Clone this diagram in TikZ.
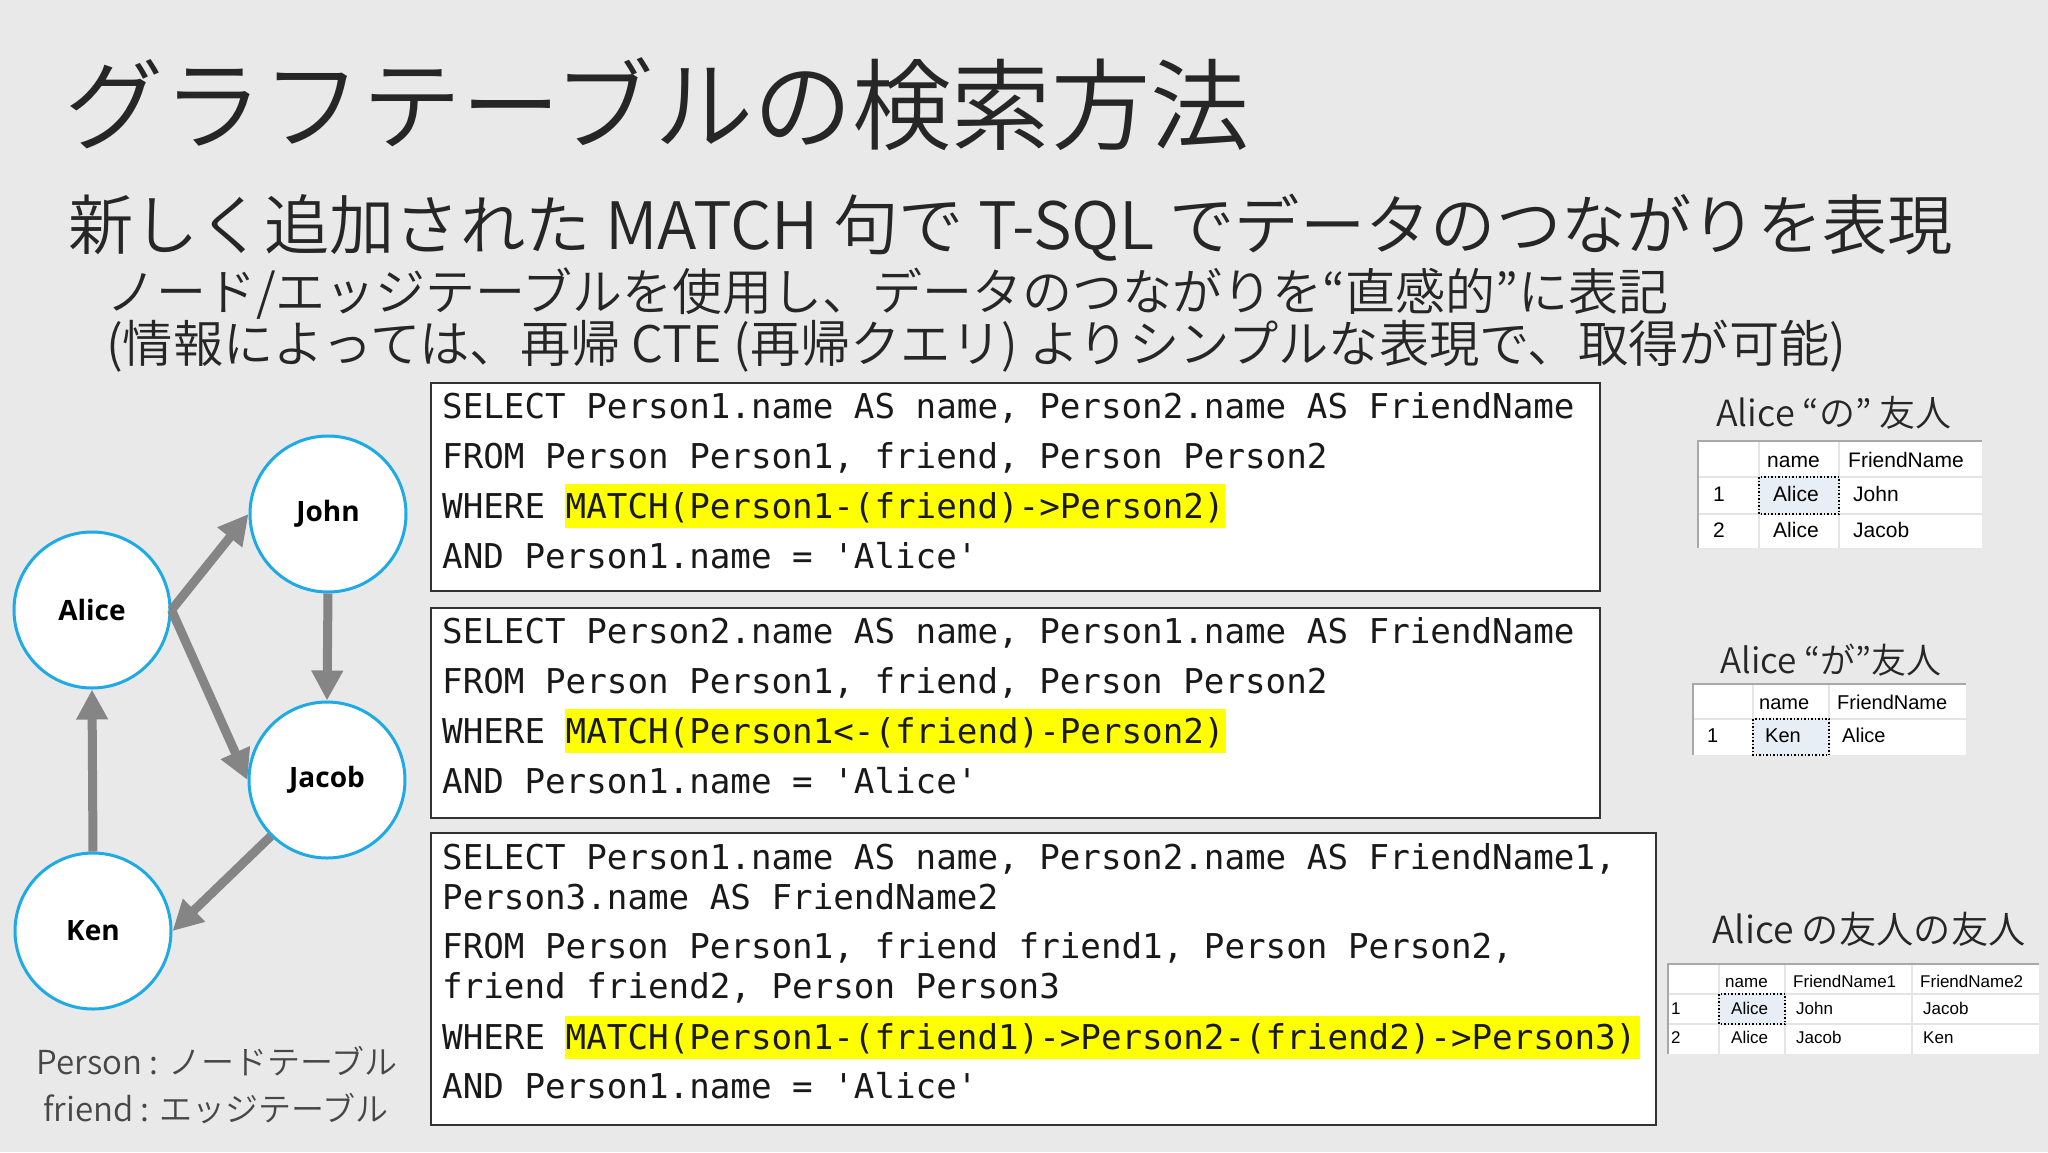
\documentclass[tikz,border=0pt]{standalone}
\usepackage{fontspec}
\setmainfont{Noto Sans CJK JP}
\newfontfamily\lightfont{Noto Sans CJK JP DemiLight}
\newfontfamily\codefont{DejaVu Sans Mono}[Ligatures=TeXOff]
\newfontfamily\labelfont{Open Sans}
\newfontfamily\tablefont{Liberation Sans}
\usetikzlibrary{arrows.meta}
\newcommand\myfs[1]{\fontsize{#1}{#1}\selectfont}
\definecolor{bgc}{RGB}{233,233,234}
\definecolor{txt}{RGB}{38,38,38}
\definecolor{cyanc}{RGB}{30,170,228}
\definecolor{arrowgray}{RGB}{133,133,133}
\definecolor{hl}{RGB}{255,255,0}
\definecolor{gridc}{RGB}{228,228,228}
\definecolor{tborder}{RGB}{168,168,168}
\definecolor{selc}{RGB}{232,238,246}
\tikzset{
  person/.style={circle, draw=cyanc, line width=3pt, fill=white, minimum size=156pt, inner sep=0pt, font=\labelfont\bfseries\myfs{28}, text=black},
  edge/.style={draw=arrowgray, line width=9pt, -{Triangle[length=30pt,width=30pt]}},
  codebox/.style={draw=black!80, line width=2pt, fill=white, anchor=north west, inner sep=0pt},
  code/.style={anchor=base west, inner sep=0pt, font=\codefont\myfs{34.2}, text=black!90},
  head/.style={anchor=west, inner sep=0pt, text=txt},
  ttl/.style={anchor=west, inner sep=0pt, text=txt, font=\lightfont\myfs{36}},
  tcell/.style={anchor=base west, inner sep=0pt, text=black, font=\tablefont\myfs{21}},
  tcells/.style={anchor=base west, inner sep=0pt, text=black, font=\tablefont\myfs{17}},
  grid/.style={draw=gridc, line width=1.5pt},
  tb/.style={draw=tborder, line width=2.5pt},
  sel/.style={draw=black, dotted, line width=1.5pt, fill=selc}
}
\begin{document}
\begin{tikzpicture}[x=1pt,y=-1pt]
\fill[bgc] (0,0) rectangle (2048,1152);
\useasboundingbox (0,0) rectangle (2048,1152);

% headings
\node[head, font=\lightfont\myfs{99.3}] (title) at (64,104) {グラフテーブルの検索方法};
\node[head, font=\lightfont\myfs{65.3}] (sub1) at (68,228) {新しく追加された MATCH 句で T-SQL でデータのつながりを表現};
\node[head, font=\lightfont\myfs{50}] (sub2) at (106,294) {ノード/エッジテーブルを使用し、データのつながりを“直感的”に表記};
\node[head, font=\lightfont\myfs{50.3}] (sub3) at (106,346) {(情報によっては、再帰 CTE (再帰クエリ) よりシンプルな表現で、取得が可能)};

% graph
\node[person] (alice) at (92,610) {Alice};
\node[person] (john) at (328,514) {John};
\node[person] (jacob) at (327,780) {Jacob};
\node[person] (ken) at (93,931) {Ken};
\draw[edge] (alice.east) -- (john.west);
\draw[edge] (alice.east) -- (jacob.west);
\draw[edge] (john.south) -- (jacob.north);
\draw[edge] (jacob.south west) -- (ken.east);
\draw[edge] (ken.north) -- (alice.south);

\node[font=\lightfont\myfs{33}, text=txt!85, inner sep=0pt] (leg1) at (217,1061) {Person : ノードテーブル};
\node[font=\lightfont\myfs{33}, text=txt!85, inner sep=0pt] (leg2) at (216,1109) {friend : エッジテーブル};

% code box 1
\node[codebox, minimum width=1169pt, minimum height=208pt] (box1) at (430,382) {};
\fill[hl] (565,484) rectangle (1225,528);
\node[code] (b1a) at (442,418) {SELECT Person1.name AS name, Person2.name AS FriendName};
\node[code] (b1b) at (442,468) {FROM Person Person1, friend, Person Person2};
\node[code] (b1c) at (442,518) {WHERE MATCH(Person1-(friend)->Person2)};
\node[code] (b1d) at (442,568) {AND Person1.name = 'Alice'};

% code box 2
\node[codebox, minimum width=1169pt, minimum height=210pt] (box2) at (430,607) {};
\fill[hl] (565,709) rectangle (1226,753);
\node[code] (b2a) at (442,643) {SELECT Person2.name AS name, Person1.name AS FriendName};
\node[code] (b2b) at (442,693) {FROM Person Person1, friend, Person Person2};
\node[code] (b2c) at (442,743) {WHERE MATCH(Person1<-(friend)-Person2)};
\node[code] (b2d) at (442,793) {AND Person1.name = 'Alice'};

% code box 3
\node[codebox, minimum width=1225pt, minimum height=292pt] (box3) at (430,832) {};
\fill[hl] (565,1016) rectangle (1640,1059);
\node[code] (b3a) at (442,869) {SELECT Person1.name AS name, Person2.name AS FriendName1,};
\node[code] (b3b) at (442,909) {Person3.name AS FriendName2};
\node[code] (b3c) at (442,958) {FROM Person Person1, friend friend1, Person Person2,};
\node[code] (b3d) at (442,998) {friend friend2, Person Person3};
\node[code] (b3e) at (442,1049) {WHERE MATCH(Person1-(friend1)->Person2-(friend2)->Person3)};
\node[code] (b3f) at (442,1098) {AND Person1.name = 'Alice'};

% table 1
\node[ttl] (t1) at (1716,413) {Alice “の” 友人};
\fill[white] (1698,441) rectangle (1982,548);
\draw[grid] (1759,441) -- (1759,548) (1839,441) -- (1839,548) (1698,477) -- (1982,477) (1698,514) -- (1982,514);
\draw[sel] (1759,477) rectangle (1839,514);
\draw[tb] (1698,548) -- (1698,441) -- (1982,441);
\node[tcell] (t1h1) at (1767,467) {name};
\node[tcell] (t1h2) at (1848,467) {FriendName};
\node[tcell] (t1r1) at (1713,501) {1};
\node[tcell] (t1a1) at (1773,501) {Alice};
\node[tcell] (t1b1) at (1853,501) {John};
\node[tcell] (t1r2) at (1713,537) {2};
\node[tcell] (t1a2) at (1773,537) {Alice};
\node[tcell] (t1b2) at (1853,537) {Jacob};

% table 2
\node[ttl, font=\lightfont\myfs{35}] (t2) at (1720,660) {Alice “が”友人};
\fill[white] (1693,684) rectangle (1966,755);
\draw[grid] (1753,684) -- (1753,755) (1829,684) -- (1829,755) (1693,719) -- (1966,719);
\draw[sel] (1753,719) rectangle (1829,755);
\draw[tb] (1693,755) -- (1693,684) -- (1966,684);
\node[tcell, font=\tablefont\myfs{20}] (t2h1) at (1759,709) {name};
\node[tcell, font=\tablefont\myfs{20}] (t2h2) at (1837,709) {FriendName};
\node[tcell, font=\tablefont\myfs{20}] (t2r1) at (1707,742) {1};
\node[tcell, font=\tablefont\myfs{20}] (t2a1) at (1765,742) {Ken};
\node[tcell, font=\tablefont\myfs{20}] (t2b1) at (1842,742) {Alice};

% table 3
\node[ttl, font=\lightfont\myfs{37.3}] (t3) at (1712,929) {Alice の友人の友人};
\fill[white] (1668,964) rectangle (2039,1054);
\draw[grid] (1719,964) -- (1719,1054) (1785,964) -- (1785,1054) (1912,964) -- (1912,1054) (1668,994) -- (2039,994) (1668,1024) -- (2039,1024);
\draw[sel] (1719,994) rectangle (1785,1024);
\draw[tb] (1668,1054) -- (1668,964) -- (2039,964);
\node[tcells] (t3h1) at (1725,987) {name};
\node[tcells] (t3h2) at (1793,987) {FriendName1};
\node[tcells] (t3h3) at (1920,987) {FriendName2};
\node[tcells] (t3r1) at (1671,1014) {1};
\node[tcells] (t3a1) at (1731,1014) {Alice};
\node[tcells] (t3b1) at (1796,1014) {John};
\node[tcells] (t3c1) at (1923,1014) {Jacob};
\node[tcells] (t3r2) at (1671,1043) {2};
\node[tcells] (t3a2) at (1731,1043) {Alice};
\node[tcells] (t3b2) at (1796,1043) {Jacob};
\node[tcells] (t3c2) at (1923,1043) {Ken};
\end{tikzpicture}
\end{document}
